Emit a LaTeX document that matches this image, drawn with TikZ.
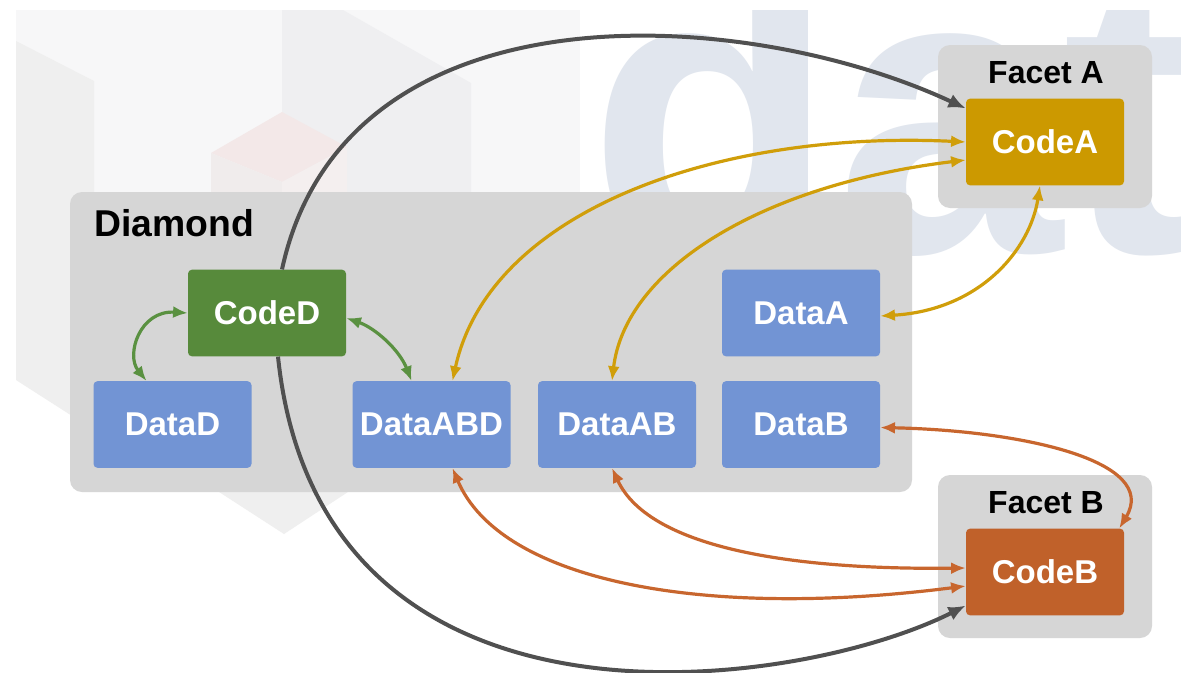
\documentclass[tikz,border=0pt]{standalone}
\usepackage{fontspec}
\setmainfont{Liberation Sans}
\usetikzlibrary{arrows.meta,calc}
\definecolor{contgrey}{HTML}{D6D6D6}
\definecolor{databl}{HTML}{7294D4}
\definecolor{codegr}{HTML}{578A3B}
\definecolor{codego}{HTML}{CC9900}
\definecolor{codeor}{HTML}{C0612A}
\definecolor{arrgrey}{HTML}{505050}
\definecolor{arrgold}{HTML}{D09E0A}
\definecolor{arrgreen}{HTML}{5A9141}
\definecolor{arror}{HTML}{C8662E}
\definecolor{wmpanel}{HTML}{F7F7F8}
\definecolor{wmface}{HTML}{EFEFF1}
\definecolor{wmleft}{HTML}{EFEFEF}
\definecolor{wmpink}{HTML}{F3E8E8}
\definecolor{wmpinkl}{HTML}{F0ECEC}
\definecolor{wmpinkr}{HTML}{F4EFEF}
\definecolor{wmblue}{HTML}{E1E6EE}
\tikzset{
  container/.style={fill=contgrey, draw=none, rounded corners=9pt, inner sep=0pt},
  box/.style={draw=none, rounded corners=3pt, inner sep=0pt,
    minimum width=118.5pt, minimum height=65pt, text=white,
    font=\bfseries\fontsize{24.75pt}{26pt}\selectfont},
  databox/.style={box, fill=databl},
  grplabel/.style={inner sep=0pt, text=black,
    font=\bfseries\fontsize{24pt}{26pt}\selectfont},
  greyconn/.style={draw=arrgrey, line width=3pt, -{Latex[length=13pt,width=11pt]}},
  dconn/.style={line width=2.4pt, {Latex[length=11pt,width=9pt]}-{Latex[length=11pt,width=9pt]}},
}
\begin{document}
\begin{tikzpicture}[x=0.75pt,y=-0.75pt]
\useasboundingbox (0,0) rectangle (1181,672);
\fill[white] (0,0) rectangle (1181,672);
% faint watermark
\begin{scope}
  \clip (16,10) rectangle (1181,672);
  \fill[wmpanel] (16,10) rectangle (580,192);
  \fill[wmleft] (16,41) -- (94,81) -- (94,430) -- (16,380) -- cycle;
  \fill[wmface] (282,10) -- (343,10) -- (471,83) -- (471,192) -- (282,192) -- cycle;
  \fill[wmpink] (282,112) -- (347,147) -- (282,182) -- (211,153) -- cycle;
  \fill[wmpinkl] (211,153) -- (282,182) -- (282,192) -- (211,192) -- cycle;
  \fill[wmpinkr] (282,182) -- (347,147) -- (347,192) -- (282,192) -- cycle;
  \fill[wmleft] (216,490) -- (284,534) -- (351,490) -- cycle;
  \node[anchor=base west, inner sep=0pt, text=wmblue,
    font=\bfseries\fontsize{305pt}{305pt}\selectfont] (wm) at (588,252) {dat};
\end{scope}
% containers
\node[container, minimum width=631.5pt, minimum height=225pt] (diamond) at (491,342) {};
\node[container, minimum width=160.5pt, minimum height=122.25pt] (facetA) at (1045,126.5) {};
\node[container, minimum width=160.5pt, minimum height=122.25pt] (facetB) at (1045,556.5) {};
\node[grplabel, anchor=base west, font=\bfseries\fontsize{28pt}{30pt}\selectfont] (diamondlbl) at (94,236) {Diamond};
\node[grplabel, anchor=base] (facetAlbl) at (1046,83) {Facet A};
\node[grplabel, anchor=base] (facetBlbl) at (1046,513) {Facet B};
% boxes
\node[box, fill=codegr] (CodeD) at (267,313) {CodeD};
\node[databox] (DataD) at (172.5,424.5) {DataD};
\node[databox] (DataABD) at (431.5,424.5) {DataABD};
\node[databox] (DataAB) at (617,424.5) {DataAB};
\node[databox] (DataA) at (801,313) {DataA};
\node[databox] (DataB) at (801,424.5) {DataB};
\node[box, fill=codego] (CodeA) at (1045,142) {CodeA};
\node[box, fill=codeor] (CodeB) at (1045,572) {CodeB};
% grey connectors
\draw[greyconn] ($(CodeD.north)+(15,0)$) .. controls +(63,-290) and +(-221,-103) .. ($(CodeA.north west)+(0,10)$);
\draw[greyconn] ($(CodeD.south)+(11,0)$) .. controls +(42,404) and +(-166,84) .. ($(CodeB.south west)+(0,-10)$);
% gold connectors
\draw[dconn, draw=arrgold] ($(DataABD.north)+(21,0)$) .. controls +(37,-171) and +(-246,-12) .. (CodeA.west);
\draw[dconn, draw=arrgold] ($(DataAB.north)+(-5,0)$) .. controls +(13,-111) and +(-206,25) .. ($(CodeA.west)+(0,18)$);
\draw[dconn, draw=arrgold] ($(DataA.east)+(0,3)$) .. controls +(100,-6) and +(-10,64) .. ($(CodeA.south)+(-5,0)$);
% green connectors
\draw[dconn, draw=arrgreen] (CodeD.west) .. controls +(-48,-3) and +(-21,-26) .. ($(DataD.north)+(-26,0)$);
\draw[dconn, draw=arrgreen] ($(CodeD.east)+(0,5)$) .. controls +(29,10) and +(-12,-31) .. ($(DataABD.north)+(-20,0)$);
% orange connectors
\draw[dconn, draw=arror] ($(DataABD.south)+(21,0)$) .. controls +(47,112) and +(-266,34) .. ($(CodeB.west)+(0,14)$);
\draw[dconn, draw=arror] ($(DataAB.south)+(-5,0)$) .. controls +(38,82) and +(-166,2) .. ($(CodeB.west)+(0,-4)$);
\draw[dconn, draw=arror] ($(DataB.east)+(0,3)$) .. controls +(140,3) and +(41,-68) .. ($(CodeB.north east)+(-5,0)$);
\end{tikzpicture}
\end{document}
